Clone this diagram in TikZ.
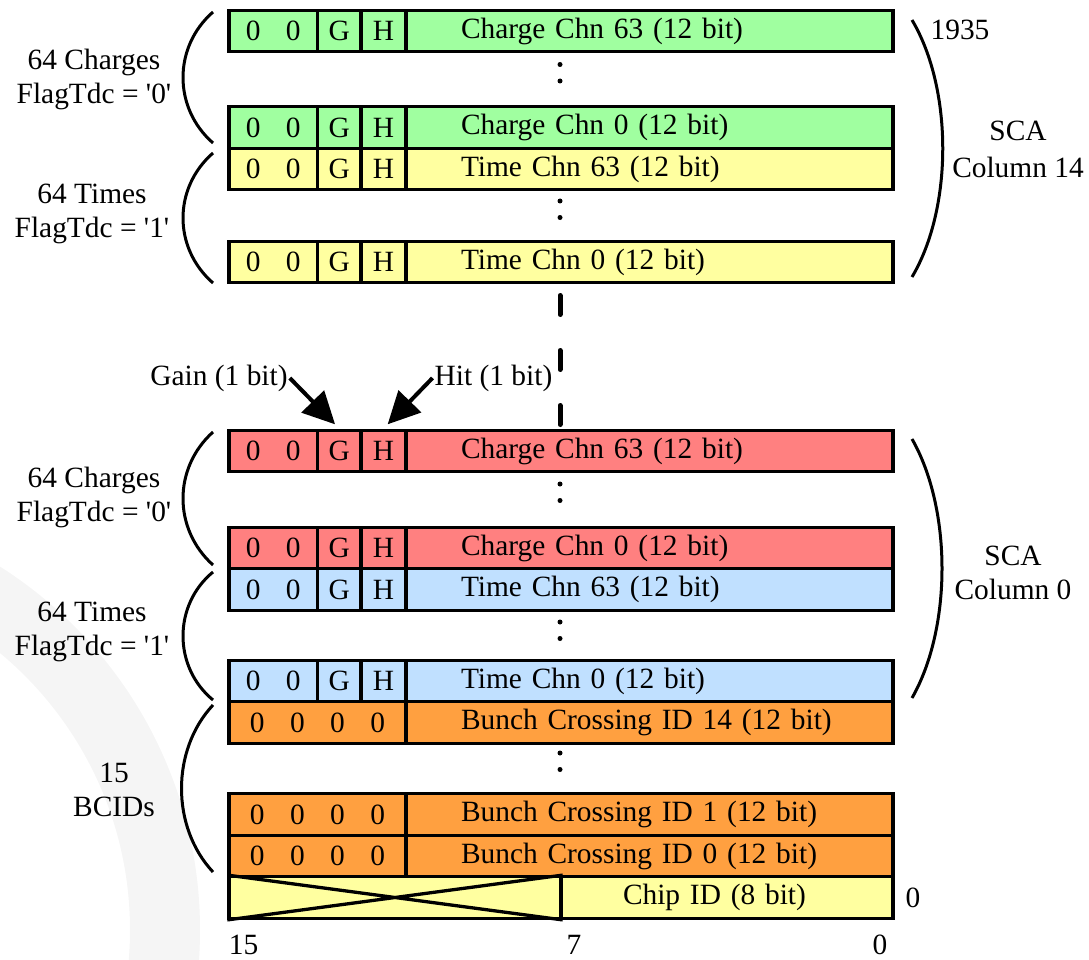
\documentclass[tikz,border=0pt]{standalone}
\usepackage{fontspec}
\setmainfont{Liberation Serif}
\usetikzlibrary{arrows.meta}
\definecolor{chgcol}{RGB}{160,255,160}
\definecolor{timecol}{RGB}{255,255,160}
\definecolor{redcol}{RGB}{255,128,128}
\definecolor{bluecol}{RGB}{192,224,255}
\definecolor{bxcol}{RGB}{255,160,64}

\begin{document}
\begin{tikzpicture}[x=1pt, y=-1pt, >={Triangle[length=32pt, width=31pt]},
  font=\fontsize{29.4}{34}\selectfont,
  fld/.style={draw, line width=3.3pt, inner sep=0pt, minimum height=41.5pt},
  zz/.style={fld, minimum width=88.5pt},
  gbit/.style={fld, minimum width=43.5pt},
  hbit/.style={fld, minimum width=45pt},
  data/.style={fld, minimum width=487pt, text width=377pt, align=left},
  bczero/.style={fld, minimum width=177pt},
  lbl/.style={inner sep=2pt, align=center},
  bracearc/.style={line width=3pt},
  dotcol/.style={line width=5pt, line cap=round, dash pattern=on 0pt off 16.5pt},
  skipline/.style={line width=5pt, line cap=round, dash pattern=on 19pt off 36pt},
  pointer/.style={->, line width=4pt, shorten >=6pt}
]
\useasboundingbox (0,0) rectangle (1089,960);
\begin{scope}
  \clip (0,0) rectangle (1089,960);
  \fill[black!4, even odd rule] (-230,930) circle[radius=430pt] (-230,930) circle[radius=360pt];
\end{scope}

\node[zz, fill=chgcol] (r1a) at (273.25,31) {0\hspace{25.5pt}0};
\node[gbit, fill=chgcol] (r1b) at (339.25,31) {G};
\node[hbit, fill=chgcol] (r1c) at (383.5,31) {H};
\node[data, fill=chgcol] (r1d) at (649.5,31) {Charge Chn 63 (12 bit)};
\node[zz, fill=chgcol] (r2a) at (273.25,127.5) {0\hspace{25.5pt}0};
\node[gbit, fill=chgcol] (r2b) at (339.25,127.5) {G};
\node[hbit, fill=chgcol] (r2c) at (383.5,127.5) {H};
\node[data, fill=chgcol] (r2d) at (649.5,127.5) {Charge Chn 0 (12 bit)};
\node[zz, fill=timecol] (r3a) at (273.25,169) {0\hspace{25.5pt}0};
\node[gbit, fill=timecol] (r3b) at (339.25,169) {G};
\node[hbit, fill=timecol] (r3c) at (383.5,169) {H};
\node[data, fill=timecol] (r3d) at (649.5,169) {Time Chn 63 (12 bit)};
\node[zz, fill=timecol] (r4a) at (273.25,262) {0\hspace{25.5pt}0};
\node[gbit, fill=timecol] (r4b) at (339.25,262) {G};
\node[hbit, fill=timecol] (r4c) at (383.5,262) {H};
\node[data, fill=timecol] (r4d) at (649.5,262) {Time Chn 0 (12 bit)};

\node[zz, fill=redcol] (r5a) at (273.25,451) {0\hspace{25.5pt}0};
\node[gbit, fill=redcol] (r5b) at (339.25,451) {G};
\node[hbit, fill=redcol] (r5c) at (383.5,451) {H};
\node[data, fill=redcol] (r5d) at (649.5,451) {Charge Chn 63 (12 bit)};
\node[zz, fill=redcol] (r6a) at (273.25,548) {0\hspace{25.5pt}0};
\node[gbit, fill=redcol] (r6b) at (339.25,548) {G};
\node[hbit, fill=redcol] (r6c) at (383.5,548) {H};
\node[data, fill=redcol] (r6d) at (649.5,548) {Charge Chn 0 (12 bit)};
\node[zz, fill=bluecol] (r7a) at (273.25,589.5) {0\hspace{25.5pt}0};
\node[gbit, fill=bluecol] (r7b) at (339.25,589.5) {G};
\node[hbit, fill=bluecol] (r7c) at (383.5,589.5) {H};
\node[data, fill=bluecol] (r7d) at (649.5,589.5) {Time Chn 63 (12 bit)};
\node[zz, fill=bluecol] (r8a) at (273.25,681) {0\hspace{25.5pt}0};
\node[gbit, fill=bluecol] (r8b) at (339.25,681) {G};
\node[hbit, fill=bluecol] (r8c) at (383.5,681) {H};
\node[data, fill=bluecol] (r8d) at (649.5,681) {Time Chn 0 (12 bit)};

\node[bczero, fill=bxcol] (r9a) at (317.5,722.5) {0\hspace{25.5pt}0\hspace{25.5pt}0\hspace{25.5pt}0};
\node[data, fill=bxcol] (r9d) at (649.5,722.5) {\mbox{Bunch Crossing ID 14 (12 bit)}};
\node[bczero, fill=bxcol] (r10a) at (317.5,814.5) {0\hspace{25.5pt}0\hspace{25.5pt}0\hspace{25.5pt}0};
\node[data, fill=bxcol] (r10d) at (649.5,814.5) {\mbox{Bunch Crossing ID 1 (12 bit)}};
\node[bczero, fill=bxcol] (r11a) at (317.5,856) {0\hspace{25.5pt}0\hspace{25.5pt}0\hspace{25.5pt}0};
\node[data, fill=bxcol] (r11d) at (649.5,856) {\mbox{Bunch Crossing ID 0 (12 bit)}};
\node[fld, fill=timecol, minimum width=332pt] (r12a) at (395,897.5) {};
\node[fld, fill=timecol, minimum width=332pt, text width=208pt, align=left] (r12b) at (727,897.5) {Chip ID (8 bit)};
\draw[line width=3.3pt] (r12a.north west) -- (r12a.south east) (r12a.south west) -- (r12a.north east);

\draw[dotcol] (560,64.5) -- (560,97.5);
\draw[dotcol] (560,201) -- (560,234);
\draw[dotcol] (560,484) -- (560,517);
\draw[dotcol] (560,622) -- (560,655);
\draw[dotcol] (560,753) -- (560,786);
\draw[skipline] (560,295.5) -- (560,424.5);

\draw[bracearc] (213,12) .. controls (173,47) and (173,108) .. (213,143);
\draw[bracearc] (213,153) .. controls (173,188) and (173,248) .. (213,283);
\draw[bracearc] (213,432) .. controls (173,468) and (173,529) .. (213,565);
\draw[bracearc] (213,572) .. controls (173,605) and (173,667) .. (213,700);
\draw[bracearc] (213,705) .. controls (171,750) and (171,827) .. (213,872);
\draw[bracearc] (912,20) .. controls (953,89) and (953,208) .. (912,277);
\draw[bracearc] (912,439) .. controls (952,509) and (952,628) .. (912,698);

\node[lbl] (grp1) at (94,79) {64 Charges\\FlagTdc = \textquotesingle 0\textquotesingle};
\node[lbl] (grp2) at (92,213.5) {64 Times\\FlagTdc = \textquotesingle 1\textquotesingle};
\node[lbl] (grp3) at (94,497) {64 Charges\\FlagTdc = \textquotesingle 0\textquotesingle};
\node[lbl] (grp4) at (92,631.5) {64 Times\\FlagTdc = \textquotesingle 1\textquotesingle};
\node[lbl] (grp5) at (114,789.5) {15\\BCIDs};
\node[lbl] (sca14) at (1018,149.5) {SCA\\[3pt]Column 14};
\node[lbl] (sca0) at (1013,572.5) {SCA\\Column 0};
\node[lbl] (top) at (960,30) {1935};
\node[lbl] (low) at (913,898) {0};
\node[lbl] (b15) at (243.5,945) {15};
\node[lbl] (b7) at (574,945) {7};
\node[lbl] (b0) at (880,945) {0};

\node[lbl] (gain) at (219,378) {Gain (1 bit)};
\node[lbl] (hit) at (493.5,378) {Hit (1 bit)};
\draw[pointer] (gain.east) -- (r5b.north);
\draw[pointer] (hit.west) -- (r5c.north);
\end{tikzpicture}
\end{document}
